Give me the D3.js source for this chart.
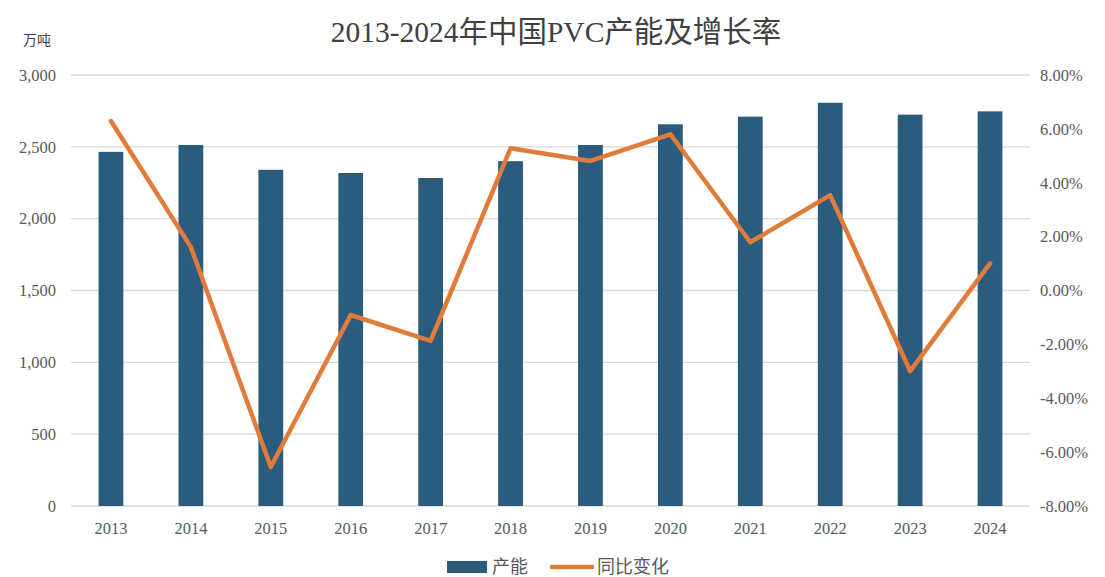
<!DOCTYPE html>
<html>
<head>
<meta charset="utf-8">
<script src="https://cdn.jsdelivr.net/npm/d3@7"></script>
<style>
  body { margin: 0; background: #fff; }
</style>
</head>
<body>
<svg id="chart" width="1105" height="577"></svg>
<script>
// data
const years = ["2013", "2014", "2015", "2016", "2017", "2018", "2019", "2020", "2021", "2022", "2023", "2024"];
const capacity = [2465, 2513, 2340, 2318, 2283, 2400, 2513, 2657, 2710, 2807, 2724, 2747];
const growth = [6.29, 1.61, -6.55, -0.91, -1.87, 5.28, 4.81, 5.80, 1.79, 3.54, -2.99, 1.01];
const leftTicks = [0, 500, 1000, 1500, 2000, 2500, 3000];
const rightTicks = [-8, -6, -4, -2, 0, 2, 4, 6, 8];

const FONT = '"Liberation Serif", "Noto Sans CJK SC", serif';
const svg = d3.select("#chart");
const margin = { left: 71, right: 75, top: 75, bottom: 71 };
const W = 1105, H = 577;

const x = d3.scaleBand()
  .domain(years)
  .range([margin.left, W - margin.right])
  .paddingInner(0.69)
  .paddingOuter(0.345);

const yL = d3.scaleLinear().domain([0, 3000]).range([H - margin.bottom, margin.top]);
const yR = d3.scaleLinear().domain([-8, 8]).range([H - margin.bottom, margin.top]);

// gridlines
svg.append("g")
  .selectAll("line")
  .data(leftTicks)
  .join("line")
  .attr("x1", margin.left)
  .attr("x2", W - margin.right)
  .attr("y1", (d) => yL(d))
  .attr("y2", (d) => yL(d))
  .attr("stroke", "#d9d9d9")
  .attr("stroke-width", 1.3);

const styleAxis = (g) => {
  g.attr("font-family", FONT);
  g.select(".domain").remove();
  g.selectAll("text").attr("font-family", FONT).attr("font-size", 16.5).attr("fill", "#595959");
};

// left axis
const fmt = d3.format(",");
svg.append("g")
  .attr("transform", `translate(${margin.left},0)`)
  .call(d3.axisLeft(yL).tickValues(leftTicks).tickFormat(fmt).tickSize(0).tickPadding(15))
  .call(styleAxis);

// right axis
svg.append("g")
  .attr("transform", `translate(${W - margin.right},0)`)
  .call(d3.axisRight(yR).tickValues(rightTicks).tickFormat((d) => d.toFixed(2) + "%").tickSize(0).tickPadding(10))
  .call(styleAxis);

// bottom axis
svg.append("g")
  .attr("transform", `translate(0,${H - margin.bottom})`)
  .call(d3.axisBottom(x).tickSize(0).tickPadding(16))
  .call(styleAxis);

// bars
svg.append("g")
  .selectAll("rect")
  .data(capacity)
  .join("rect")
  .attr("x", (d, i) => x(years[i]))
  .attr("y", (d) => yL(d))
  .attr("width", x.bandwidth())
  .attr("height", (d) => yL(0) - yL(d))
  .attr("fill", "#2b5c7e");

// growth line
const line = d3.line()
  .x((d, i) => x(years[i]) + x.bandwidth() / 2)
  .y((d) => yR(d));

svg.append("path")
  .datum(growth)
  .attr("d", line)
  .attr("fill", "none")
  .attr("stroke", "#e07b39")
  .attr("stroke-width", 4.5)
  .attr("stroke-linejoin", "round")
  .attr("stroke-linecap", "round");

// title + unit
svg.append("text")
  .attr("x", 556)
  .attr("y", 42)
  .attr("text-anchor", "middle")
  .attr("font-family", FONT)
  .attr("font-size", 29.5)
  .attr("fill", "#404040")
  .text("2013-2024年中国PVC产能及增长率");

svg.append("text")
  .attr("x", 23)
  .attr("y", 45)
  .attr("font-family", FONT)
  .attr("font-size", 14)
  .attr("fill", "#404040")
  .text("万吨");

// legend
const lg = svg.append("g").attr("transform", "translate(0,567)");
lg.append("rect").attr("x", 447).attr("y", -6).attr("width", 40).attr("height", 12).attr("fill", "#2b5c7e");
lg.append("text").attr("x", 492).attr("y", 6).attr("font-family", FONT).attr("font-size", 18).attr("fill", "#595959").text("产能");
lg.append("line").attr("x1", 552).attr("x2", 592).attr("y1", 0).attr("y2", 0)
  .attr("stroke", "#e07b39").attr("stroke-width", 4.5).attr("stroke-linecap", "round");
lg.append("text").attr("x", 597).attr("y", 6).attr("font-family", FONT).attr("font-size", 18).attr("fill", "#595959").text("同比变化");
</script>
</body>
</html>
